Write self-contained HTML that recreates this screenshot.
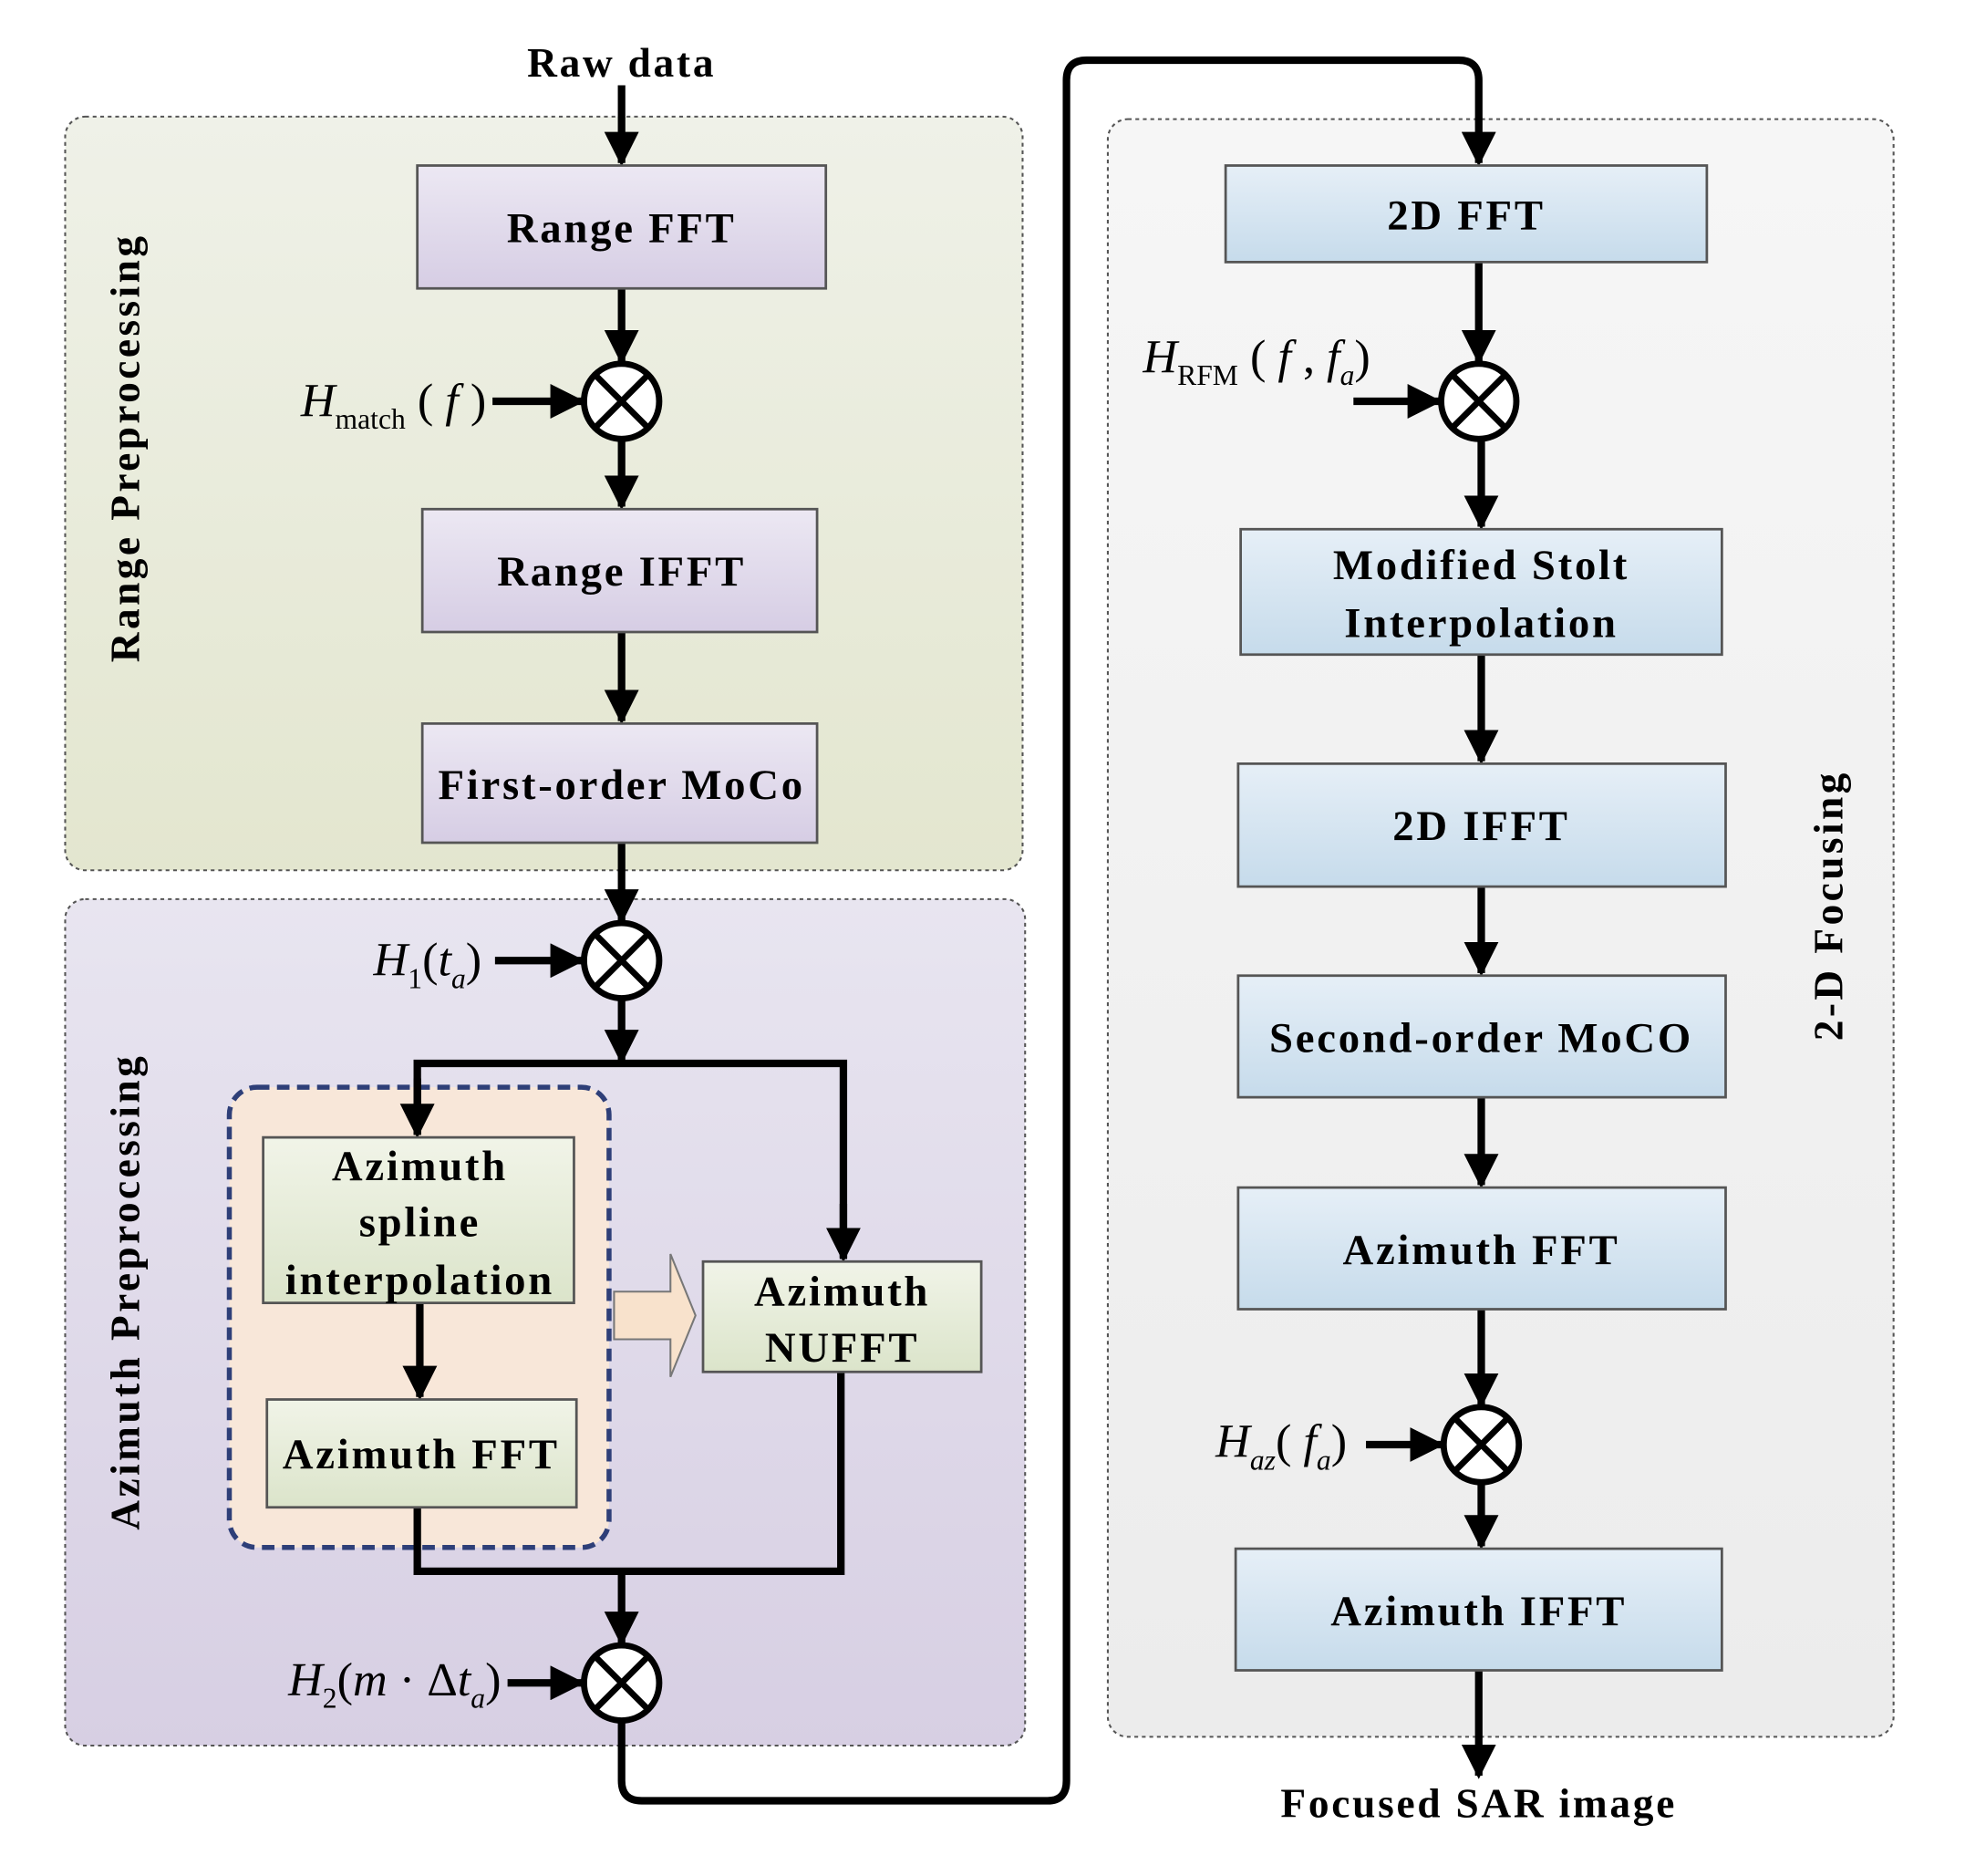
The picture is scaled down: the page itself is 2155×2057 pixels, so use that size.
<!DOCTYPE html>
<html><head><meta charset="utf-8"><style>html,body{margin:0;padding:0;background:#fff}svg{display:block}</style></head>
<body>
<svg width="2155" height="2057" viewBox="0 0 1568 1496" preserveAspectRatio="none" xmlns="http://www.w3.org/2000/svg" font-family="'Liberation Serif', serif">
<defs>
<linearGradient id="gG" x1="0" y1="0" x2="0" y2="1"><stop offset="0" stop-color="#eff1e8"/><stop offset="1" stop-color="#e3e6cf"/></linearGradient>
<linearGradient id="gL" x1="0" y1="0" x2="0" y2="1"><stop offset="0" stop-color="#e8e5f0"/><stop offset="1" stop-color="#d7cfe3"/></linearGradient>
<linearGradient id="gR" x1="0" y1="0" x2="0" y2="1"><stop offset="0" stop-color="#f6f6f6"/><stop offset="1" stop-color="#ececec"/></linearGradient>
<linearGradient id="bL" x1="0" y1="0" x2="0" y2="1"><stop offset="0" stop-color="#ece8f3"/><stop offset="1" stop-color="#d6cde4"/></linearGradient>
<linearGradient id="bB" x1="0" y1="0" x2="0" y2="1"><stop offset="0" stop-color="#e6eff7"/><stop offset="1" stop-color="#c6dbeb"/></linearGradient>
<linearGradient id="bG" x1="0" y1="0" x2="0" y2="1"><stop offset="0" stop-color="#f1f4e8"/><stop offset="1" stop-color="#dbe4ca"/></linearGradient>
<marker id="ah" viewBox="0 0 10 10" refX="9" refY="5" markerWidth="4.6" markerHeight="4.6" markerUnits="strokeWidth" orient="auto"><path d="M0,0 L10,5 L0,10 z" fill="#000"/></marker>
</defs>

<rect x="52" y="93" width="764" height="601" rx="16" fill="url(#gG)" stroke="#555" stroke-width="1.5" stroke-dasharray="3,3"/>
<rect x="52" y="717" width="766" height="675" rx="16" fill="url(#gL)" stroke="#555" stroke-width="1.5" stroke-dasharray="3,3"/>
<rect x="884" y="95" width="627" height="1290" rx="16" fill="url(#gR)" stroke="#555" stroke-width="1.5" stroke-dasharray="3,3"/>
<rect x="183" y="867" width="303" height="367" rx="22" fill="#f8e7d9" stroke="#2e3f78" stroke-width="4" stroke-dasharray="10,6"/>

<g font-weight="bold" font-size="33" fill="#000" letter-spacing="2">
<text transform="translate(111,357) rotate(-90)" text-anchor="middle" letter-spacing="2.5">Range Preprocessing</text>
<text transform="translate(111,1030) rotate(-90)" text-anchor="middle" letter-spacing="2.5">Azimuth Preprocessing</text>
<text transform="translate(1470,722) rotate(-90)" text-anchor="middle" letter-spacing="2.5">2-D Focusing</text>
<text x="496" y="61" text-anchor="middle">Raw data</text>
<text x="1180" y="1449" text-anchor="middle">Focused SAR image</text>
</g>

<g stroke="#000" stroke-width="6" fill="none">
<line x1="496" y1="68" x2="496" y2="130" marker-end="url(#ah)"/>
<line x1="496" y1="230" x2="496" y2="288" marker-end="url(#ah)"/>
<line x1="393" y1="320" x2="464" y2="320" marker-end="url(#ah)"/>
<line x1="496" y1="350" x2="496" y2="404" marker-end="url(#ah)"/>
<line x1="496" y1="504" x2="496" y2="575" marker-end="url(#ah)"/>
<line x1="496" y1="672" x2="496" y2="734" marker-end="url(#ah)"/>
<line x1="395" y1="766" x2="464" y2="766" marker-end="url(#ah)"/>
<line x1="496" y1="796" x2="496" y2="846" marker-end="url(#ah)"/>
<polyline points="333,905 333,848 673,848 673,1003"/>
<line x1="333" y1="860" x2="333" y2="905" marker-end="url(#ah)"/>
<line x1="673" y1="960" x2="673" y2="1004" marker-end="url(#ah)"/>
<line x1="335" y1="1039" x2="335" y2="1114" marker-end="url(#ah)"/>
<polyline points="333,1202 333,1253 671,1253 671,1094"/>
<line x1="496" y1="1253" x2="496" y2="1310" marker-end="url(#ah)"/>
<line x1="405" y1="1342" x2="464" y2="1342" marker-end="url(#ah)"/>
<path d="M496,1372 V1420 Q496,1436 512,1436 H836 Q851,1436 851,1420 V64 Q851,48 867,48 H1164 Q1180,48 1180,64 V130" marker-end="url(#ah)"/>
<line x1="1180" y1="209" x2="1180" y2="288" marker-end="url(#ah)"/>
<line x1="1080" y1="320" x2="1148" y2="320" marker-end="url(#ah)"/>
<line x1="1182" y1="350" x2="1182" y2="420" marker-end="url(#ah)"/>
<line x1="1182" y1="522" x2="1182" y2="607" marker-end="url(#ah)"/>
<line x1="1182" y1="707" x2="1182" y2="776" marker-end="url(#ah)"/>
<line x1="1182" y1="875" x2="1182" y2="945" marker-end="url(#ah)"/>
<line x1="1182" y1="1044" x2="1182" y2="1120" marker-end="url(#ah)"/>
<line x1="1090" y1="1152" x2="1150" y2="1152" marker-end="url(#ah)"/>
<line x1="1182" y1="1182" x2="1182" y2="1233" marker-end="url(#ah)"/>
<line x1="1180" y1="1332" x2="1180" y2="1416" marker-end="url(#ah)"/>
</g>

<path d="M490,1030 H535 V1000 L555,1049 L535,1098 V1068 H490 Z" fill="#f8e2cc" stroke="#777" stroke-width="1.5"/>

<g stroke="#000" stroke-width="5" fill="#fff">
<g><circle cx="496" cy="320" r="30"/><path d="M475,299 L517,341 M517,299 L475,341"/></g>
<g><circle cx="496" cy="766" r="30"/><path d="M475,745 L517,787 M517,745 L475,787"/></g>
<g><circle cx="496" cy="1342" r="30"/><path d="M475,1321 L517,1363 M517,1321 L475,1363"/></g>
<g><circle cx="1180" cy="320" r="30"/><path d="M1159,299 L1201,341 M1201,299 L1159,341"/></g>
<g><circle cx="1182" cy="1152" r="30"/><path d="M1161,1131 L1203,1173 M1203,1131 L1161,1173"/></g>
</g>

<g stroke="#555" stroke-width="2">
<rect x="333" y="132" width="326" height="98" fill="url(#bL)"/>
<rect x="337" y="406" width="315" height="98" fill="url(#bL)"/>
<rect x="337" y="577" width="315" height="95" fill="url(#bL)"/>
<rect x="210" y="907" width="248" height="132" fill="url(#bG)"/>
<rect x="213" y="1116" width="247" height="86" fill="url(#bG)"/>
<rect x="561" y="1006" width="222" height="88" fill="url(#bG)"/>
<rect x="978" y="132" width="384" height="77" fill="url(#bB)"/>
<rect x="990" y="422" width="384" height="100" fill="url(#bB)"/>
<rect x="988" y="609" width="389" height="98" fill="url(#bB)"/>
<rect x="988" y="778" width="389" height="97" fill="url(#bB)"/>
<rect x="988" y="947" width="389" height="97" fill="url(#bB)"/>
<rect x="986" y="1235" width="388" height="97" fill="url(#bB)"/>
</g>

<g font-weight="bold" font-size="34" text-anchor="middle" fill="#000" letter-spacing="2">
<text x="496" y="193">Range FFT</text>
<text x="496" y="467">Range IFFT</text>
<text x="496" y="637">First-order MoCo</text>
<text x="335" y="941">Azimuth</text>
<text x="335" y="986">spline</text>
<text x="335" y="1032">interpolation</text>
<text x="336" y="1171">Azimuth FFT</text>
<text x="672" y="1041">Azimuth</text>
<text x="672" y="1086">NUFFT</text>
<text x="1170" y="183">2D FFT</text>
<text x="1182" y="462">Modified Stolt</text>
<text x="1182" y="508">Interpolation</text>
<text x="1182" y="670">2D IFFT</text>
<text x="1182" y="839">Second-order MoCO</text>
<text x="1182" y="1008">Azimuth FFT</text>
<text x="1180" y="1296">Azimuth IFFT</text>
</g>

<g font-style="italic" font-size="38" fill="#000">
<text x="240" y="332">H<tspan font-style="normal" font-size="23" dy="10">match</tspan><tspan dy="-10" font-style="normal"> (</tspan> f <tspan font-style="normal">)</tspan></text>
<text x="298" y="778">H<tspan font-style="normal" font-size="23" dy="10">1</tspan><tspan dy="-10" font-style="normal">(</tspan>t<tspan font-size="23" dy="10">a</tspan><tspan dy="-10" font-style="normal">)</tspan></text>
<text x="230" y="1352">H<tspan font-style="normal" font-size="23" dy="10">2</tspan><tspan dy="-10" font-style="normal">(</tspan>m<tspan font-style="normal"> · Δ</tspan>t<tspan font-size="23" dy="10">a</tspan><tspan dy="-10" font-style="normal">)</tspan></text>
<text x="912" y="297">H<tspan font-style="normal" font-size="23" dy="10">RFM</tspan><tspan dy="-10" font-style="normal"> (</tspan> f <tspan font-style="normal">, </tspan> f<tspan font-size="23" dy="10">a</tspan><tspan dy="-10" font-style="normal">)</tspan></text>
<text x="970" y="1162">H<tspan font-size="23" dy="10">az</tspan><tspan dy="-10" font-style="normal">(</tspan> f<tspan font-size="23" dy="10">a</tspan><tspan dy="-10" font-style="normal">)</tspan></text>
</g>
</svg>
</body></html>
